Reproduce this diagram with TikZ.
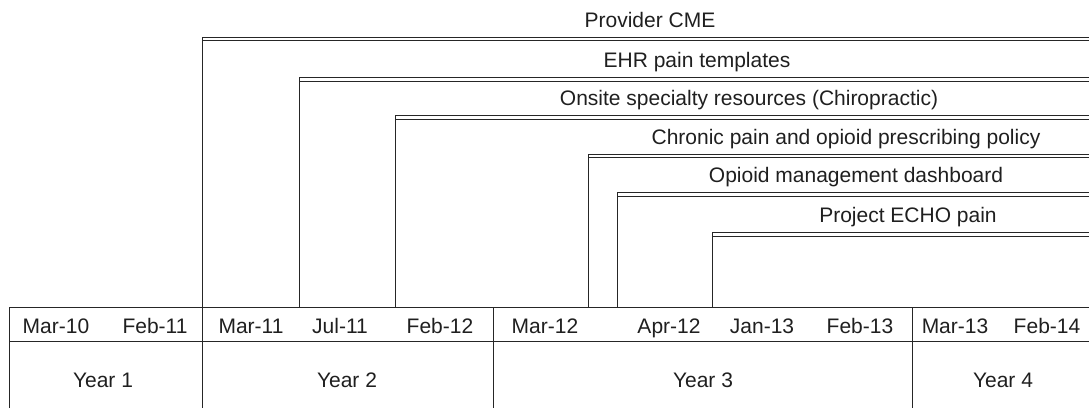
\documentclass[tikz,border=0pt]{standalone}
\usepackage{fontspec}
\setmainfont{Liberation Sans}
\begin{document}
\begin{tikzpicture}[
    x=1pt, y=-1pt,
    every node/.style={font=\fontsize{21}{25}\selectfont, text=black!88, inner sep=0pt, anchor=base},
    rule/.style={draw=black!85, line width=1pt}
    ]
    \useasboundingbox (0,0) rectangle (1089,408);
    % table
    \draw[rule] (9,408) -- (9,307) -- (1089,307);
    \draw[rule] (9,341) -- (1089,341);
    \foreach \x in {202,493,912}
      \draw[rule] (\x,307) -- (\x,408);
    % months
    \foreach \x/\m [count=\i] in {56/Mar-10, 155/Feb-11, 251/Mar-11, 340/Jul-11, 440/Feb-12,
        545/Mar-12, 669/Apr-12, 762/Jan-13, 860/Feb-13, 955/Mar-13, 1047/Feb-14}
      \node (m\i) at (\x,333) {\m};
    % years
    \foreach \x/\y [count=\i] in {103/Year 1, 347/Year 2, 703/Year 3, 1003/Year 4}
      \node (y\i) at (\x,387) {\y};
    % interventions
    \foreach \x/\t/\lbl/\c [count=\i] in {202/37/Provider CME/650,
        299/77.5/EHR pain templates/697,
        395/115.5/Onsite specialty resources (Chiropractic)/749,
        588/154/Chronic pain and opioid prescribing policy/846,
        617/192.5/Opioid management dashboard/856,
        712/232.5/Project ECHO pain/908} {
      \coordinate (s\i) at (\x,307);
      \coordinate (t\i) at (\x,\t);
      \coordinate (e\i) at (1089,\t);
      \draw[rule] (s\i) -- (t\i) -- (e\i);
      \draw[rule] ([yshift=-3.5pt]t\i) -- ([yshift=-3.5pt]e\i);
      \node (lbl\i) at (\c,\t-10) {\lbl};
    }
\end{tikzpicture}
\end{document}
